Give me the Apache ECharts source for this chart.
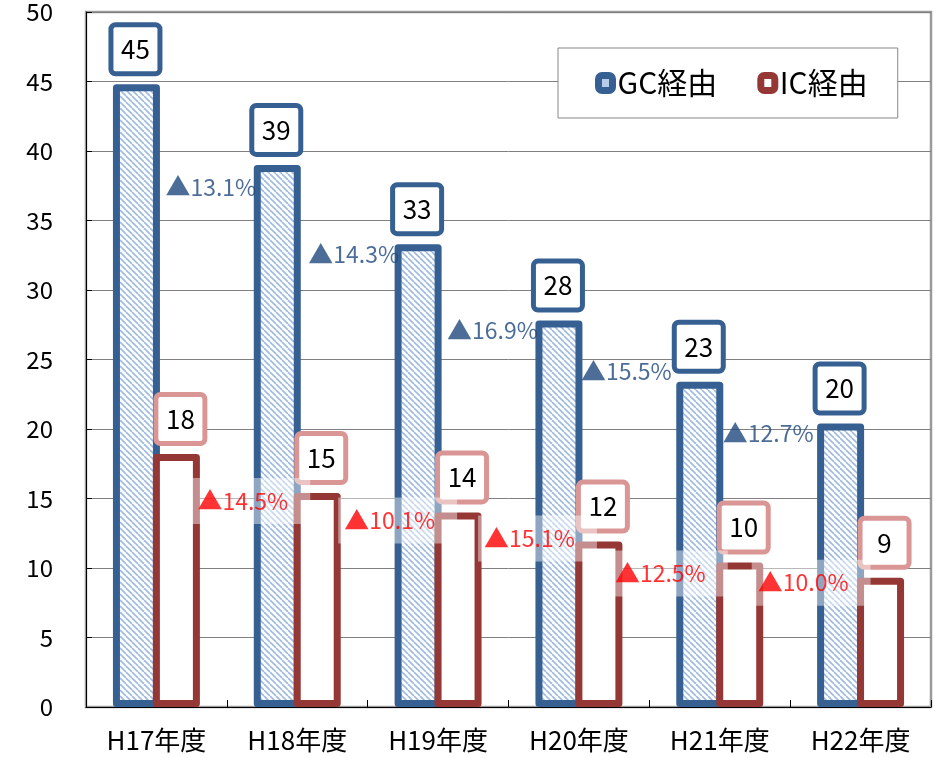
<!DOCTYPE html>
<html><head><meta charset="utf-8">
<script src="https://cdn.jsdelivr.net/npm/echarts@6/dist/echarts.min.js"></script>
<style>html,body{margin:0;padding:0;background:#fff}#c{width:935px;height:758px}</style>
</head><body><div id="c"></div>
<script>
// ---- data ----
const categories = ['H17年度', 'H18年度', 'H19年度', 'H20年度', 'H21年度', 'H22年度'];
const seriesNames = ['GC経由', 'IC経由'];
const gcValues = [44.8, 39.0, 33.3, 27.8, 23.4, 20.4];
const icValues = [18.2, 15.4, 14.0, 11.9, 10.4, 9.3];
const gcDeclines = ['13.1%', '14.3%', '16.9%', '15.5%', '12.7%'];
const icDeclines = ['14.5%', '10.1%', '15.1%', '12.5%', '10.0%'];
const yMin = 0, yMax = 50, yStep = 5;

// ---- layout / style constants ----
const FONT = '"Noto Sans CJK JP", "Noto Sans", sans-serif';
const GC_COLOR = '#376092', IC_COLOR = '#953735', IC_LABEL_BORDER = '#d99694';
const GC_TEXT = '#1f497d', IC_TEXT = '#ff0000';
// pixel nudges of the decline labels (relative to the category boundary / next bar top)
const gcShift = [[-16, 22], [-14, 10], [-16, 10], [-23, -10], [-22, 10]];
const icShift = [[16, 8], [22, 8], [21, -3], [11, 11], [13, 5]];

// hatch pattern
const tile = document.createElement('canvas');
tile.width = 6; tile.height = 6;
(function () {
  const c = tile.getContext('2d');
  c.fillStyle = '#ffffff'; c.fillRect(0, 0, 6, 6);
  c.strokeStyle = '#9fbbe0'; c.lineWidth = 1.6;
  for (const o of [-6, 0, 6]) { c.beginPath(); c.moveTo(o, 0); c.lineTo(o + 6, 6); c.stroke(); }
})();
const hatch = { image: tile, repeat: 'repeat' };

const chart = echarts.init(document.getElementById('c'), null, { renderer: 'canvas' });

const valueBox = (border, dx) => ({
  show: true, position: 'top', distance: 13, offset: [dx, 0],
  formatter: p => Math.round(p.value),
  fontFamily: FONT, fontSize: 26, color: '#000',
  backgroundColor: '#fff', borderColor: border, borderWidth: 5, borderRadius: 2,
  width: 40, lineHeight: 40, padding: 2, align: 'center'
});

const declineRich = (color) => ({
  t: { fontFamily: FONT, fontSize: 25, color: color, lineHeight: 24 },
  v: { fontFamily: FONT, fontSize: 23, color: color, lineHeight: 24 }
});

const gcDeclineData = gcDeclines.map((t, i) => ({
  value: [i + 1, gcValues[i + 1]], name: t,
  label: { offset: [gcShift[i][0], gcShift[i][1]] }
}));
const icDeclineData = icDeclines.map((t, i) => ({
  value: [i + 1, icValues[i + 1]], name: t,
  label: { offset: [icShift[i][0] + 8, icShift[i][1]] }
}));

chart.setOption({
  animation: false,
  backgroundColor: '#fff',
  grid: { left: 86, right: 4, top: 10, bottom: 51, show: true, borderColor: '#9a9a9a', borderWidth: 2.5, containLabel: false },
  legend: {
    left: 558, top: 48,
    padding: [20, 30, 20, 37],
    backgroundColor: '#fff', borderColor: '#888', borderWidth: 1,
    itemGap: 40, itemWidth: 14, itemHeight: 15,
    textStyle: { fontFamily: FONT, fontSize: 30, color: '#000' },
    data: [
      { name: seriesNames[0], icon: 'roundRect', itemStyle: { color: '#b7cce8', borderColor: GC_COLOR, borderWidth: 7 } },
      { name: seriesNames[1], icon: 'roundRect', itemStyle: { color: '#fff', borderColor: IC_COLOR, borderWidth: 7 } }
    ]
  },
  xAxis: [{
    type: 'category', data: categories, boundaryGap: true,
    axisLine: { lineStyle: { color: '#000', width: 1 } },
    axisTick: { show: true, inside: true, length: 7, lineStyle: { color: '#000' } },
    axisLabel: { fontFamily: FONT, fontSize: 26, color: '#000', margin: 20 },
    splitLine: { show: false }, z: 5
  }, {
    type: 'value', min: 0, max: 6, show: false
  }],
  yAxis: {
    type: 'value', min: yMin, max: yMax, interval: yStep,
    axisLine: { show: true, lineStyle: { color: '#000', width: 1 } },
    axisTick: { show: true, inside: true, length: 6, lineStyle: { color: '#000' } },
    axisLabel: { fontFamily: FONT, fontSize: 24, color: '#000', margin: 33 },
    splitLine: { show: true, lineStyle: { color: '#808080', width: 1 } }
  },
  series: [
    {
      name: seriesNames[0], type: 'bar', data: gcValues, barWidth: 47, barGap: '-15%',
      itemStyle: { color: hatch, borderColor: GC_COLOR, borderWidth: 7, borderJoin: 'round' },
      label: valueBox(GC_COLOR, -1), z: 2
    },
    {
      name: seriesNames[1], type: 'bar', data: icValues, barWidth: 47, barGap: '-15%',
      itemStyle: { color: '#fff', borderColor: IC_COLOR, borderWidth: 7, borderJoin: 'round' },
      label: valueBox(IC_LABEL_BORDER, 4), z: 3
    },
    {
      type: 'scatter', xAxisIndex: 1, data: gcDeclineData, symbolSize: 1,
      itemStyle: { color: 'rgba(0,0,0,0)' }, z: 10, silent: true,
      label: { show: true, position: 'inside', formatter: p => '{t|▲}{v|' + p.name + '}',
        textBorderWidth: 0, rich: declineRich(GC_TEXT) }
    },
    {
      type: 'scatter', xAxisIndex: 1, data: icDeclineData, symbolSize: 1,
      itemStyle: { color: 'rgba(0,0,0,0)' }, z: 11, silent: true,
      label: { show: true, position: 'inside', formatter: p => '{t|▲}{v|' + p.name + '}',
        textBorderWidth: 0, rich: declineRich(IC_TEXT),
        backgroundColor: 'rgba(255,255,255,0.55)', padding: [11, 22, 11, 6] }
    }
  ]
});
</script>
</body></html>
